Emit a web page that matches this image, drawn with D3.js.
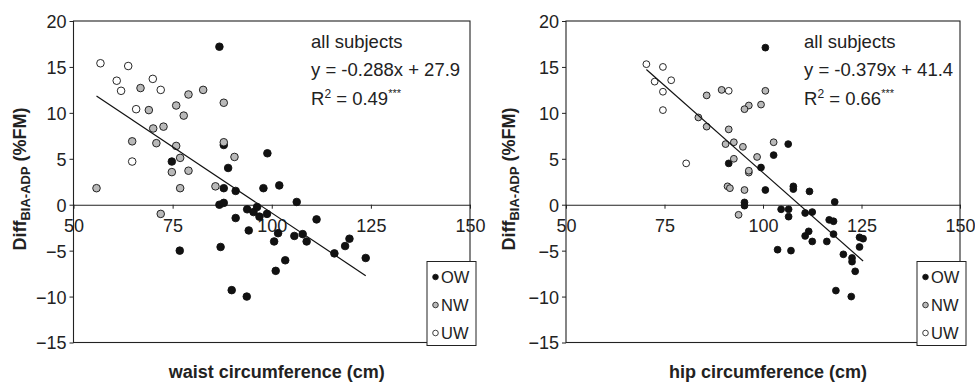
<!DOCTYPE html>
<html>
<head>
<meta charset="utf-8">
<script src="https://cdn.jsdelivr.net/npm/d3@7"></script>
<style>
  html, body { margin: 0; padding: 0; background: #fff; }
  svg text { font-family: 'Liberation Sans', Arial, Helvetica, sans-serif; fill: #222; }
</style>
</head>
<body>
<div id="chart"></div>
<script>
// values: [circumference (cm), Diff BIA-ADP (%FM)]
const waistOW = [[74.8,4.7],[87.9,1.8],[90.9,1.5],[86.8,17.2],[87.9,6.5],[89.0,4.0],[98.9,5.6],[101.9,2.1],
  [97.9,1.8],[86.8,0.0],[87.9,0.2],[93.8,-0.5],[90.9,-1.45],[94.2,-2.8],[76.8,-5.0],[87.1,-4.6],[89.9,-9.3],
  [93.7,-10.0],[106.3,0.3],[95.4,-0.8],[96.3,-0.25],[96.9,-1.3],[98.8,-1.0],[111.3,-1.6],[101.6,-3.1],
  [105.7,-3.4],[107.8,-3.2],[108.8,-4.0],[100.6,-4.0],[119.6,-3.7],[118.5,-4.5],[115.8,-5.3],[123.7,-5.8],
  [103.4,-6.05],[101.0,-7.2]];
const waistNW = [[66.9,12.7],[69.0,10.3],[75.9,10.8],[77.8,9.7],[79.0,12.0],[82.7,12.5],[70.1,8.3],[72.7,8.5],
  [64.8,6.9],[70.9,6.7],[75.9,6.4],[76.9,5.1],[74.8,3.55],[79.0,3.7],[55.8,1.8],[76.9,1.8],[85.8,2.0],
  [87.9,11.1],[87.9,6.8],[90.6,5.2],[72.0,-1.0]];
const waistUW = [[56.8,15.4],[63.8,15.1],[60.9,13.5],[62.0,12.4],[70.0,13.7],[72.0,12.5],[65.8,10.4],[64.8,4.7]];

const hipOW = [[91.3,4.5],[100.6,17.1],[106.4,6.6],[102.7,5.4],[99.5,4.05],[100.6,1.6],[107.7,2.0],[107.7,1.7],
  [111.8,1.45],[95.3,0.25],[95.3,-0.1],[118.2,0.3],[104.6,-0.5],[106.5,-0.5],[106.5,-1.3],[110.7,-0.9],
  [112.5,-0.8],[116.8,-1.65],[117.9,-1.8],[111.6,-2.9],[110.7,-3.4],[112.5,-4.0],[116.2,-4.0],[117.9,-3.2],
  [124.5,-3.55],[125.4,-3.7],[124.5,-4.6],[103.7,-4.9],[107.1,-5.0],[120.4,-5.4],[122.6,-5.8],[122.6,-6.2],
  [123.4,-7.25],[118.5,-9.35],[122.4,-10.0]];
const hipNW = [[83.6,9.5],[85.7,11.9],[85.7,8.5],[89.5,12.5],[90.5,6.6],[91.3,8.2],[91.0,2.0],[91.6,1.8],
  [100.6,12.4],[96.4,10.8],[95.3,10.4],[99.5,10.9],[92.6,6.8],[94.9,6.3],[102.7,6.8],[92.6,5.0],[98.5,5.2],
  [96.4,3.5],[96.4,3.7],[95.3,1.6],[93.8,-1.1]];
const hipUW = [[70.4,15.3],[74.6,15.0],[72.5,13.4],[76.7,13.55],[74.6,12.3],[74.6,10.3],[80.5,4.5],[91.3,12.4]];

const xTicks = [50, 75, 100, 125, 150];
const yTicks = [-15, -10, -5, 0, 5, 10, 15, 20];
const groups = ['OW', 'NW', 'UW'];
const groupFill = { OW: '#111', NW: '#b9b9b9', UW: '#fff' };

const panels = [
  { left: 73.5, right: 470, ow: waistOW, nw: waistNW, uw: waistUW, slope: -0.288, intercept: 27.9,
    eq: 'y = -0.288x + 27.9', r2: '0.49', xTitle: 'waist circumference (cm)', r: 3.8, textX: 311, yLabelX: 26 },
  { left: 566, right: 960, ow: hipOW, nw: hipNW, uw: hipUW, slope: -0.379, intercept: 41.4,
    eq: 'y = -0.379x + 41.4', r2: '0.66', xTitle: 'hip circumference (cm)', r: 3.4, textX: 804, yLabelX: 515 }
];

const width = 975, height = 382;
const plotTop = 21, plotBottom = 342.5;

const svg = d3.select('#chart').append('svg')
  .attr('width', width)
  .attr('height', height);

panels.forEach(p => {
  const g = svg.append('g');
  const x = d3.scaleLinear().domain([50, 150]).range([p.left, p.right]);
  const y = d3.scaleLinear().domain([-15, 20]).range([plotBottom, plotTop]);

  // plot frame
  g.append('rect')
    .attr('x', p.left).attr('y', plotTop)
    .attr('width', p.right - p.left).attr('height', plotBottom - plotTop)
    .attr('fill', 'none').attr('stroke', '#222').attr('stroke-width', 1.1);

  // y axis
  const yAxis = g.append('g')
    .attr('transform', `translate(${p.left},0)`)
    .call(d3.axisLeft(y).tickValues(yTicks).tickSize(4).tickPadding(3).tickSizeOuter(0));
  yAxis.select('.domain').remove();
  yAxis.selectAll('line').attr('stroke', '#222');
  yAxis.selectAll('text').style('font-size', '18px').attr('fill', '#222').attr('dy', '0.36em');

  // x axis crossing at zero
  const xAxis = g.append('g')
    .attr('transform', `translate(0,${y(0)})`)
    .call(d3.axisBottom(x).tickValues(xTicks).tickSize(4).tickSizeOuter(0));
  xAxis.select('.domain').attr('stroke', '#222').attr('stroke-width', 1.1);
  xAxis.selectAll('line').attr('stroke', '#222');
  xAxis.selectAll('text').style('font-size', '18px').attr('fill', '#222').attr('y', 27).attr('dy', 0);

  // points: OW first, then NW, then UW on top
  const series = { OW: p.ow, NW: p.nw, UW: p.uw };
  groups.forEach(k => {
    g.append('g').selectAll('circle')
      .data(series[k])
      .enter().append('circle')
      .attr('cx', d => x(d[0]))
      .attr('cy', d => y(d[1]))
      .attr('r', p.r)
      .attr('fill', groupFill[k])
      .attr('stroke', '#111')
      .attr('stroke-width', 0.9);
  });

  // trend line across data range
  const all = p.ow.concat(p.nw, p.uw);
  const ext = d3.extent(all, d => d[0]);
  g.append('line')
    .attr('x1', x(ext[0])).attr('y1', y(p.slope * ext[0] + p.intercept))
    .attr('x2', x(ext[1])).attr('y2', y(p.slope * ext[1] + p.intercept))
    .attr('stroke', '#111').attr('stroke-width', 1.2);

  // annotation
  const ann = g.append('g').style('font-size', '18.5px');
  ann.append('text').attr('x', p.textX).attr('y', 48).text('all subjects');
  ann.append('text').attr('x', p.textX).attr('y', 76).text(p.eq);
  const r2 = ann.append('text').attr('x', p.textX).attr('y', 105);
  r2.append('tspan').text('R');
  r2.append('tspan').attr('dy', -7).style('font-size', '12px').text('2');
  r2.append('tspan').attr('dy', 7).text(' = ' + p.r2);
  r2.append('tspan').attr('dy', -8).style('font-size', '11px').text('***');

  // legend
  const lg = g.append('g');
  lg.append('rect')
    .attr('x', p.right - 43).attr('y', 261.5)
    .attr('width', 49).attr('height', 84)
    .attr('fill', '#fff').attr('stroke', '#222').attr('stroke-width', 1);
  groups.forEach((k, i) => {
    const cy = 277 + i * 28;
    lg.append('circle')
      .attr('cx', p.right - 34.5).attr('cy', cy).attr('r', 2.8)
      .attr('fill', groupFill[k]).attr('stroke', '#111').attr('stroke-width', 0.8);
    lg.append('text')
      .attr('x', p.right - 29).attr('y', cy + 5.8)
      .style('font-size', '16.5px').text(k);
  });

  // axis titles
  g.append('text')
    .attr('x', (p.left + p.right) / 2 + 5).attr('y', 378)
    .attr('text-anchor', 'middle')
    .style('font-size', '18px').style('font-weight', 'bold')
    .text(p.xTitle);

  const yl = g.append('text')
    .attr('transform', `translate(${p.yLabelX},179) rotate(-90)`)
    .attr('text-anchor', 'middle')
    .style('font-size', '18px').style('font-weight', 'bold');
  yl.append('tspan').text('Diff');
  yl.append('tspan').attr('dy', 4).style('font-size', '13px').text('BIA-ADP');
  yl.append('tspan').attr('dy', -4).text(' (%FM)');
});
</script>
</body>
</html>
